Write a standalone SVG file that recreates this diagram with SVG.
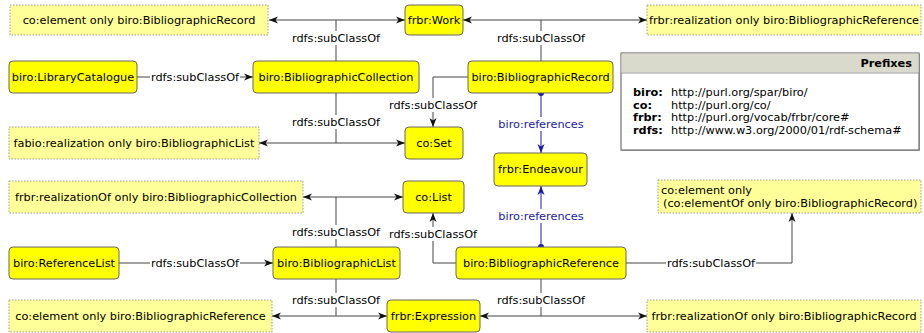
<svg xmlns="http://www.w3.org/2000/svg" width="924" height="333" viewBox="0 0 924 333">
<defs>
<marker id="arr" markerUnits="userSpaceOnUse" markerWidth="10" markerHeight="8" refX="9" refY="4" orient="auto"><path d="M0,0.5 L9,4 L0,7.5 L2.5,4 Z" fill="#111"/></marker>
<marker id="arrb" markerUnits="userSpaceOnUse" markerWidth="10" markerHeight="8" refX="9" refY="4" orient="auto"><path d="M0,0.5 L9,4 L0,7.5 L2.5,4 Z" fill="#1a1aa6"/></marker>
<marker id="dot" markerUnits="userSpaceOnUse" markerWidth="8" markerHeight="8" refX="4" refY="4"><circle cx="4" cy="4" r="3" fill="#1a1aa6"/></marker>
</defs>
<style>
text{font-family:"DejaVu Sans","Liberation Sans",sans-serif;font-size:11.3px;fill:#000}
.c{text-anchor:middle;dominant-baseline:central}
.node rect{fill:#ffff00;stroke:#666;stroke-width:1}
.restr rect{fill:#ffff99;stroke:#999;stroke-width:1;stroke-dasharray:1.5 1.5}
.e{fill:none;stroke:#444;stroke-width:1}
.ea{fill:none;stroke:#444;stroke-width:1;marker-end:url(#arr)}
.eb{fill:none;stroke:#1a1aa6;stroke-width:1;marker-end:url(#arrb);marker-start:url(#dot)}
.lbg{fill:#fff}
.bl{fill:#1a1aa6}
.b{font-weight:bold}
</style>

<g id="connectors">
<path class="e" d="M336,61 V20"/><path class="ea" d="M336,20 H269"/><path class="ea" d="M336,20 H405"/>
<path class="e" d="M541,61 V20"/><path class="ea" d="M541,20 H463"/><path class="ea" d="M541,20 H647"/>
<path class="ea" d="M137,77 H253"/>
<path class="e" d="M336,93 V143"/><path class="ea" d="M336,143 H259"/><path class="ea" d="M336,143 H405"/>
<path class="ea" d="M468,77 H433 V127"/>
<path class="eb" d="M541,93 V153"/>
<path class="eb" d="M541,247 V186"/>
<path class="e" d="M336,247 V197"/><path class="ea" d="M336,197 H303"/><path class="ea" d="M336,197 H403"/>
<path class="ea" d="M456,263 H433 V213"/>
<path class="ea" d="M119,263 H273"/>
<path class="ea" d="M626,263 H792 V213"/>
<path class="e" d="M336,279 V316"/><path class="ea" d="M336,316 H272"/><path class="ea" d="M336,316 H387"/>
<path class="e" d="M541,279 V316"/><path class="ea" d="M541,316 H480"/><path class="ea" d="M541,316 H647"/>
<g id="labels">
<rect class="lbg" x="291" y="31" width="90" height="14"/><text class="c" x="336" y="38">rdfs:subClassOf</text>
<rect class="lbg" x="496" y="31" width="90" height="14"/><text class="c" x="541" y="38">rdfs:subClassOf</text>
<rect class="lbg" x="150" y="70" width="90" height="14"/><text class="c" x="195" y="77">rdfs:subClassOf</text>
<rect class="lbg" x="291" y="115" width="90" height="14"/><text class="c" x="336" y="122">rdfs:subClassOf</text>
<rect class="lbg" x="388" y="98" width="90" height="14"/><text class="c" x="433" y="105">rdfs:subClassOf</text>
<rect class="lbg" x="498" y="117" width="86" height="14"/><text class="c bl" x="541" y="124">biro:references</text>
<rect class="lbg" x="498" y="209" width="86" height="14"/><text class="c bl" x="541" y="216">biro:references</text>
<rect class="lbg" x="291" y="225" width="90" height="14"/><text class="c" x="336" y="232">rdfs:subClassOf</text>
<rect class="lbg" x="388" y="227" width="90" height="14"/><text class="c" x="433" y="234">rdfs:subClassOf</text>
<rect class="lbg" x="150" y="256" width="90" height="14"/><text class="c" x="195" y="263">rdfs:subClassOf</text>
<rect class="lbg" x="666" y="256" width="90" height="14"/><text class="c" x="711" y="263">rdfs:subClassOf</text>
<rect class="lbg" x="291" y="293" width="90" height="14"/><text class="c" x="336" y="300">rdfs:subClassOf</text>
<rect class="lbg" x="496" y="293" width="90" height="14"/><text class="c" x="541" y="300">rdfs:subClassOf</text>
</g>
</g>

<g id="r1" class="restr"><rect x="10" y="5" width="258" height="30"/><text class="c" x="139" y="20">co:element only biro:BibliographicRecord</text></g>
<g id="work" class="node"><rect x="405" y="5" width="58" height="30" rx="4"/><text class="c" x="434" y="20">frbr:Work</text></g>
<g id="r2" class="restr"><rect x="647" y="5" width="274" height="30"/><text class="c" x="784" y="20">frbr:realization only biro:BibliographicReference</text></g>
<g id="libcat" class="node"><rect x="9" y="61" width="128" height="32" rx="4"/><text class="c" x="73" y="77">biro:LibraryCatalogue</text></g>
<g id="bibcoll" class="node"><rect x="253" y="61" width="166" height="32" rx="4"/><text class="c" x="336" y="77">biro:BibliographicCollection</text></g>
<g id="bibrec" class="node"><rect x="468" y="61" width="145" height="32" rx="4"/><text class="c" x="540.5" y="77">biro:BibliographicRecord</text></g>
<g id="r3" class="restr"><rect x="9" y="127" width="250" height="32"/><text class="c" x="134" y="143">fabio:realization only biro:BibliographicList</text></g>
<g id="coset" class="node"><rect x="405" y="127" width="58" height="32" rx="4"/><text class="c" x="434" y="143">co:Set</text></g>
<g id="endeavour" class="node"><rect x="494" y="153" width="93" height="33" rx="4"/><text class="c" x="540.5" y="169.5">frbr:Endeavour</text></g>
<g id="r4" class="restr"><rect x="9" y="181" width="294" height="32"/><text class="c" x="156" y="197">frbr:realizationOf only biro:BibliographicCollection</text></g>
<g id="colist" class="node"><rect x="403" y="181" width="61" height="32" rx="4"/><text class="c" x="433.5" y="197">co:List</text></g>
<g id="r5" class="restr"><rect x="658" y="180" width="263" height="33"/><text x="661" y="194">co:element only</text><text x="663" y="207">(co:elementOf only biro:BibliographicRecord)</text></g>
<g id="reflist" class="node"><rect x="9" y="247" width="110" height="32" rx="4"/><text class="c" x="64" y="263">biro:ReferenceList</text></g>
<g id="biblist" class="node"><rect x="273" y="247" width="127" height="32" rx="4"/><text class="c" x="336.5" y="263">biro:BibliographicList</text></g>
<g id="bibref" class="node"><rect x="456" y="247" width="170" height="32" rx="4"/><text class="c" x="541" y="263">biro:BibliographicReference</text></g>
<g id="r6" class="restr"><rect x="9" y="300" width="263" height="32"/><text class="c" x="140.5" y="316">co:element only biro:BibliographicReference</text></g>
<g id="expression" class="node"><rect x="387" y="300" width="93" height="32" rx="4"/><text class="c" x="433.5" y="316">frbr:Expression</text></g>
<g id="r7" class="restr"><rect x="647" y="300" width="274" height="32"/><text class="c" x="784" y="316">frbr:realizationOf only biro:BibliographicRecord</text></g>

<g id="prefixes">
<rect x="622" y="54" width="298" height="97" fill="#bbb"/>
<rect x="621" y="53" width="298" height="97" fill="#fff" stroke="#555"/>
<rect x="621.5" y="53.5" width="297" height="19" fill="#d9d9cc"/>
<line x1="621" y1="73" x2="919" y2="73" stroke="#999"/>
<text class="b" x="912" y="67" text-anchor="end">Prefixes</text>
<text class="b" x="633" y="96">biro:</text><text x="671" y="96">http://purl.org/spar/biro/</text>
<text class="b" x="633" y="108.5">co:</text><text x="671" y="108.5">http://purl.org/co/</text>
<text class="b" x="633" y="121">frbr:</text><text x="671" y="121">http://purl.org/vocab/frbr/core#</text>
<text class="b" x="633" y="133.5">rdfs:</text><text x="671" y="133.5">http://www.w3.org/2000/01/rdf-schema#</text>
</g>
</svg>
